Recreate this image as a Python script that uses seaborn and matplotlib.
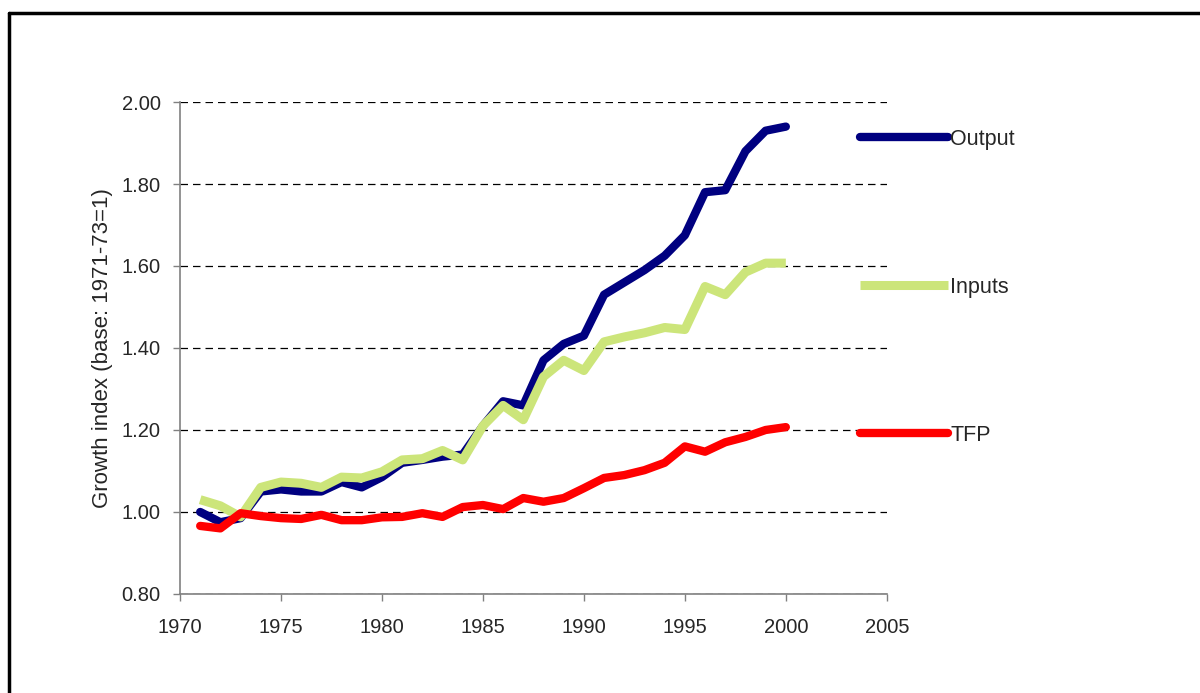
#!/usr/bin/env python
# -*- encoding: utf8 -*-
import matplotlib
matplotlib.use("Agg")
import matplotlib.pyplot as plt
import matplotlib.lines as mlines
import pandas as pd
import seaborn as sns


# Growth index, base 1971-73 = 1
years = list(range(1971, 2001))
output = [
    1.000, 0.975, 0.985, 1.050, 1.055, 1.050, 1.050, 1.073, 1.060, 1.085,
    1.120, 1.127, 1.135, 1.140, 1.210, 1.270, 1.260, 1.370, 1.410, 1.430,
    1.530, 1.560, 1.590, 1.625, 1.675, 1.780, 1.785, 1.880, 1.930, 1.940]
inputs = [
    1.030, 1.015, 0.988, 1.060, 1.073, 1.070, 1.060, 1.085, 1.083, 1.098,
    1.127, 1.130, 1.150, 1.127, 1.210, 1.260, 1.225, 1.330, 1.370, 1.345,
    1.415, 1.427, 1.437, 1.450, 1.445, 1.550, 1.530, 1.585, 1.607, 1.607]
tfp = [
    0.966, 0.960, 0.997, 0.990, 0.985, 0.983, 0.993, 0.980, 0.980, 0.987,
    0.988, 0.997, 0.988, 1.012, 1.017, 1.007, 1.034, 1.025, 1.034, 1.058,
    1.083, 1.090, 1.102, 1.120, 1.160, 1.147, 1.170, 1.183, 1.200, 1.207]

series_names = ["Output", "Inputs", "TFP"]
x_ticks = list(range(1970, 2006, 5))
y_ticks = [0.80, 1.00, 1.20, 1.40, 1.60, 1.80, 2.00]


def plot_growth_index():

    data = pd.DataFrame({
            "year": years,
            "Output": output,
            "Inputs": inputs,
            "TFP": tfp,
        })

    sns.set_style("ticks")
    plt.rcParams["font.family"] = ["Liberation Sans", "DejaVu Sans"]

    figure = plt.figure(figsize=(12, 6.93), dpi=100)
    axes = figure.add_axes([0.15, 0.1429, 0.589, 0.7099])

    # Excel like colours
    colors = {
        "Output": "#000080",
        "Inputs": "#cce57a",
        "TFP": "#ff0000",
    }
    caps = {"Output": "round", "Inputs": "butt", "TFP": "round"}
    widths = {"Output": 6, "Inputs": 6.5, "TFP": 6}

    for name in series_names:
        sns.lineplot(
            x="year", y=name, data=data, ax=axes,
            color=colors[name], linewidth=widths[name], label=name,
            solid_capstyle=caps[name], solid_joinstyle="round")

    axes.set_xlim(1970, 2005)
    axes.set_ylim(0.80, 2.00)
    axes.set_xticks(x_ticks)
    axes.set_yticks(y_ticks)
    axes.set_yticklabels(["{:.2f}".format(v) for v in y_ticks])
    axes.tick_params(labelsize=14.5, length=5, width=1, color="#808080")
    axes.tick_params(axis="x", pad=12)
    axes.tick_params(axis="y", pad=9)
    axes.set_xlabel("")
    axes.set_ylabel("Growth index (base: 1971-73=1)", fontsize=16,
        labelpad=6)

    axes.yaxis.grid(True, linestyle=(0, (6, 4)), color="black",
        linewidth=0.9)
    axes.set_axisbelow(True)

    sns.despine(ax=axes)
    for side in ["left", "bottom"]:
        axes.spines[side].set_color("#808080")
        axes.spines[side].set_linewidth(1.2)

    # Legend entries spread out on the right, like the Excel original
    handles, labels = axes.get_legend_handles_labels()
    axes.legend_.remove()
    figure.legend(
        handles, labels, loc="upper left",
        bbox_to_anchor=(860 / 1200, 1 - 129 / 693),
        frameon=False, fontsize=15.5, handlelength=4.1, handletextpad=0.1,
        labelspacing=5.9, borderpad=0, borderaxespad=0)

    # Chart border, only left and top edges fall inside the picture
    border = dict(color="black", linewidth=2.5, transform=figure.transFigure)
    figure.lines.append(mlines.Line2D(
        [9 / 1200, 9 / 1200], [0, 1 - 13 / 693], **border))
    figure.lines.append(mlines.Line2D(
        [9 / 1200, 1], [1 - 13 / 693, 1 - 13 / 693], **border))

    figure.savefig("out.png", dpi=100)


if __name__ == "__main__":
    plot_growth_index()
